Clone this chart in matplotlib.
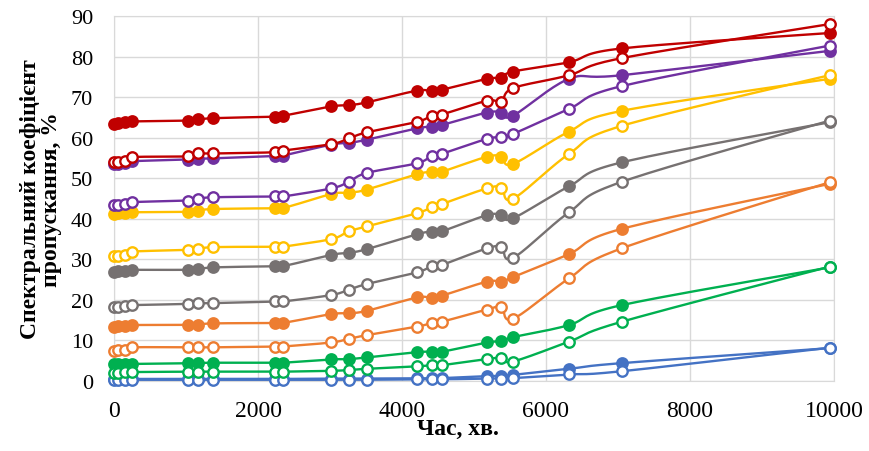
import numpy as np
import matplotlib.pyplot as plt

plt.rcParams['font.family'] = ['Liberation Serif', 'DejaVu Serif']

# time, minutes
time_min = [0, 60, 150, 250, 1030, 1160, 1380, 2240, 2350, 3020, 3260, 3510,
            4210, 4410, 4550, 5180, 5380, 5540, 6320, 7050, 9940]

# transmission, %  (filled / open markers for each colour)
blue_f = [0.5, 0.5, 0.5, 0.5, 0.5, 0.5, 0.5, 0.5, 0.5, 0.6, 0.6, 0.6,
          0.7, 0.7, 0.7, 1.2, 1.2, 1.5, 3.0, 4.4, 8.1]
blue_o = [0.2, 0.2, 0.2, 0.2, 0.2, 0.2, 0.2, 0.2, 0.2, 0.3, 0.3, 0.3,
          0.4, 0.4, 0.4, 0.6, 0.6, 0.7, 1.6, 2.4, 8.2]
green_f = [4.2, 4.2, 4.2, 4.2, 4.4, 4.4, 4.5, 4.5, 4.5, 5.3, 5.4, 5.8,
           7.1, 7.2, 7.2, 9.5, 9.8, 10.8, 13.8, 18.7, 28.0]
green_o = [2.0, 2.0, 2.1, 2.2, 2.3, 2.3, 2.3, 2.3, 2.3, 2.5, 2.7, 3.0,
           3.6, 3.9, 3.9, 5.4, 5.7, 4.8, 9.7, 14.6, 28.2]
orange_f = [13.4, 13.5, 13.6, 13.8, 13.8, 13.9, 14.2, 14.3, 14.3, 16.5, 16.7, 17.3,
            20.6, 20.4, 21.0, 24.5, 24.5, 25.6, 31.3, 37.5, 48.6]
orange_o = [7.5, 7.6, 7.7, 8.3, 8.3, 8.3, 8.3, 8.5, 8.5, 9.5, 10.4, 11.3,
            13.4, 14.3, 14.6, 17.6, 18.3, 15.3, 25.3, 32.7, 49.0]
gray_f = [26.8, 27.0, 27.2, 27.4, 27.4, 27.5, 28.0, 28.3, 28.3, 31.1, 31.6, 32.5,
          36.2, 36.8, 36.9, 40.9, 40.9, 40.1, 48.0, 53.9, 63.8]
gray_o = [18.2, 18.3, 18.4, 18.7, 19.0, 19.2, 19.2, 19.6, 19.6, 21.2, 22.5, 23.9,
          26.8, 28.3, 28.6, 32.7, 33.0, 30.3, 41.6, 49.1, 64.2]
yellow_f = [41.2, 41.3, 41.4, 41.6, 41.7, 42.0, 42.4, 42.6, 42.6, 46.1, 46.4, 47.2,
            51.0, 51.5, 51.6, 55.3, 55.3, 53.5, 61.5, 66.6, 74.5]
yellow_o = [30.7, 30.8, 31.0, 31.9, 32.3, 32.5, 33.0, 33.1, 33.1, 35.0, 36.9, 38.1,
            41.4, 42.8, 43.6, 47.5, 47.7, 44.9, 56.0, 62.9, 75.4]
purple_f = [53.5, 53.6, 53.8, 54.2, 54.6, 54.8, 54.9, 55.5, 55.6, 58.3, 58.7, 59.5,
            62.3, 62.7, 63.1, 66.2, 66.2, 65.4, 74.5, 75.4, 81.4]
purple_o = [43.4, 43.4, 43.6, 44.1, 44.5, 44.9, 45.3, 45.5, 45.5, 47.5, 49.1, 51.3,
            53.7, 55.5, 56.0, 59.7, 60.1, 60.9, 67.1, 72.7, 82.7]
red_f = [63.4, 63.6, 63.8, 64.0, 64.2, 64.5, 64.8, 65.2, 65.4, 67.7, 68.0, 68.7,
         71.6, 71.4, 71.8, 74.5, 74.8, 76.3, 78.6, 82.0, 85.8]
red_o = [53.9, 54.0, 54.2, 55.2, 55.4, 56.1, 56.1, 56.4, 56.8, 58.4, 59.8, 61.3,
         63.9, 65.4, 65.7, 69.1, 68.9, 72.2, 75.4, 79.6, 88.0]

series = [
    (blue_f, blue_o, '#4472C4'),
    (green_f, green_o, '#00B050'),
    (orange_f, orange_o, '#ED7D31'),
    (gray_f, gray_o, '#767171'),
    (yellow_f, yellow_o, '#FFC000'),
    (purple_f, purple_o, '#7030A0'),
    (red_f, red_o, '#C00000'),
]


def smooth(x, y, n=20):
    # Excel-like smoothed line (Catmull-Rom as cubic Bezier)
    p = np.column_stack([x, y]).astype(float)
    p = np.vstack([p[0], p, p[-1]])
    t = np.linspace(0, 1, n)[:, None]
    out = []
    for i in range(1, len(p) - 2):
        p0, p3 = p[i], p[i + 1]
        c1 = p0 + (p[i + 1] - p[i - 1]) / 6
        c2 = p3 - (p[i + 2] - p[i]) / 6
        seg = ((1 - t) ** 3 * p0 + 3 * (1 - t) ** 2 * t * c1
               + 3 * (1 - t) * t ** 2 * c2 + t ** 3 * p3)
        out.append(seg)
    out = np.vstack(out)
    return out[:, 0], out[:, 1]


fig = plt.figure(figsize=(8.69, 4.52), dpi=100)
ax = fig.add_axes([0.1312, 0.1549, 0.8285, 0.8075])

for yf, yo, c in series:
    for yv, face in ((yf, c), (yo, 'white')):
        sx, sy = smooth(time_min, yv)
        ax.plot(sx, sy, color=c, lw=1.7, clip_on=False, zorder=2)
        ax.plot(time_min, yv, 'o', ms=7.5, mfc=face, mec=c, mew=1.7,
                clip_on=False, zorder=3)

ax.set_xlim(0, 10000)
ax.set_ylim(0, 90)
ax.set_xticks(range(0, 10001, 2000))
ax.set_yticks(range(0, 91, 10))
ax.grid(True, color='#d9d9d9', lw=1)
ax.set_axisbelow(True)
for s in ax.spines.values():
    s.set_color('#d9d9d9')
ax.tick_params(axis='y', length=0, labelsize=16, pad=15)
ax.tick_params(axis='x', length=0, labelsize=17, pad=14)

ax.set_xlabel('Час, хв.', fontsize=17, fontweight='bold')
ax.xaxis.set_label_coords(0.478, -0.10)
ax.set_ylabel('Спектральний коефіцієнт\nпропускання, %', fontsize=17,
              fontweight='bold', linespacing=1.0)
ax.yaxis.set_label_coords(-0.072, 0.5)

fig.savefig('out.png', dpi=100)
